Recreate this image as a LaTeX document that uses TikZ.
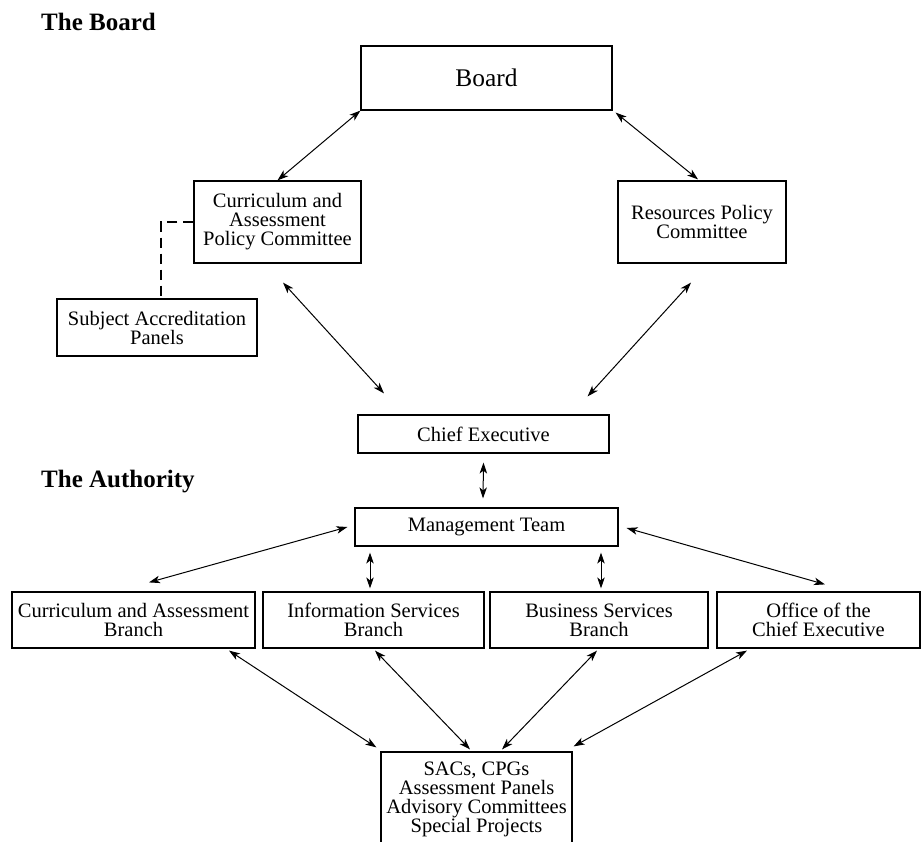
\documentclass[tikz,border=0pt]{standalone}
\usepackage{fontspec}
\setmainfont{Liberation Serif}
\usetikzlibrary{arrows.meta,calc}
\begin{document}
\begin{tikzpicture}[x=1pt,y=-1pt,
  box/.style={draw, line width=1.2pt, rectangle, inner sep=0pt, align=center,
    font=\fontsize{20.5}{19}\selectfont},
  tip/.style={},
  arr/.style={{Stealth[length=11pt,width=7.5pt,inset=3pt]}-{Stealth[length=11pt,width=7.5pt,inset=3pt]}, line width=1pt},
  dashline/.style={line width=1.1pt, dash pattern=on 10pt off 6pt},
  head/.style={font=\fontsize{25}{28}\selectfont\bfseries, anchor=base west, inner sep=0pt}]
\useasboundingbox (0,0) rectangle (924,842);
\clip (0,0) rectangle (924,842);
% headings
\node[head] (hboard) at (41,31) {The Board};
\node[head] (hauth) at (41,487) {The Authority};
% boxes
\node[box, minimum width=251pt, minimum height=64pt, font=\fontsize{25.4}{28}\selectfont] (board) at (486.5,78) {Board};
\node[box, minimum width=167pt, minimum height=82pt] (capc) at (277.5,222) {Curriculum and\\Assessment\\Policy Committee};
\node[box, minimum width=168pt, minimum height=82pt] (rpc) at (702,222) {Resources Policy\\Committee};
\node[box, minimum width=200pt, minimum height=57pt] (sap) at (157,327.5) {Subject Accreditation\\Panels};
\node[box, minimum width=251pt, minimum height=38pt] (ce) at (483.5,434) {Chief Executive};
\node[box, minimum width=263pt, minimum height=38pt] (mt) at (486.5,527) {Management Team};
\node[box, minimum width=243pt, minimum height=56pt] (b1) at (133.5,620) {Curriculum and Assessment\\Branch};
\node[box, minimum width=221pt, minimum height=56pt] (b2) at (373.5,620) {Information Services\\Branch};
\node[box, minimum width=218pt, minimum height=56pt] (b3) at (599,620) {Business Services\\Branch};
\node[box, minimum width=203pt, minimum height=56pt] (b4) at (818.5,620) {Office of the\\Chief Executive};
\node[box, minimum width=191pt, minimum height=94pt] (sac) at (476.5,799) {SACs, CPGs\\Assessment Panels\\Advisory Committees\\Special Projects};
% connectors
\draw[arr] (board.south west) -- (capc.north);
\draw[arr] ($(board.south east)+(3,2)$) -- ($(rpc.north)+(-4,-1)$);
\draw[arr] ($(capc.south)+(5.5,19)$) -- ($(ce.north)+(-99.5,-21)$);
\draw[arr] ($(rpc.south)+(-11,19)$) -- ($(ce.north east)+(-22,-18)$);
\draw[arr] ($(ce.south)+(0,9)$) -- ($(mt.north)+(-3.5,-9)$);
\draw[arr] ($(mt.west)+(-7,0)$) -- ($(b1.north)+(15.5,-9)$);
\draw[arr] ($(mt.east)+(8,1)$) -- ($(b4.north)+(6.5,-7)$);
\draw[arr] ($(mt.south)+(-116.5,6)$) -- ($(b2.north)+(-3.5,-3)$);
\draw[arr] ($(mt.south)+(114.5,6)$) -- ($(b3.north)+(2,-3)$);
\draw[arr] ($(b1.south)+(95.5,2)$) -- ($(sac.north west)+(-4,-4)$);
\draw[arr] ($(b2.south)+(1.5,2)$) -- ($(sac.north)+(-6.5,-2)$);
\draw[arr] ($(b3.south)+(-2,2)$) -- ($(sac.north)+(25.5,-2)$);
\draw[arr] ($(b4.south)+(-71.5,2)$) -- ($(sac.north east)+(1,-5)$);
\draw[dashline] (capc.west) -| ($(sap.north)+(4,-2)$);
\end{tikzpicture}
\end{document}
